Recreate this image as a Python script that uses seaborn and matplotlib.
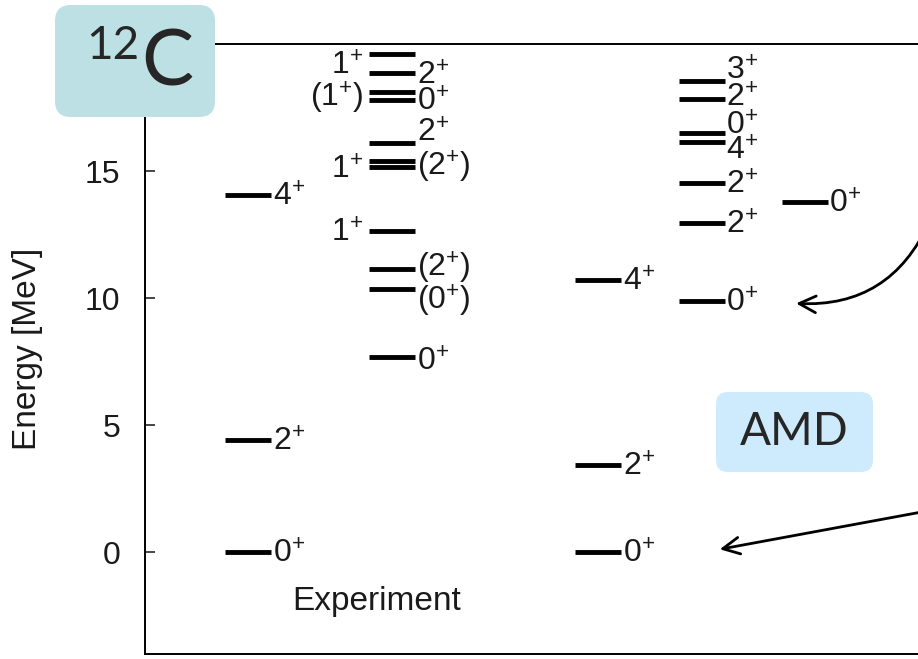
import numpy as np
import pandas as pd
import seaborn as sns
import matplotlib.pyplot as plt
from matplotlib.patches import FancyBboxPatch


# Energy levels of 12C [MeV] and their spin-parity, one list per column
exp_a_energy = [0.0, 4.42, 14.05]
exp_a_jp = ['0+', '2+', '4+']

exp_b_energy = [7.67, 10.35, 11.15, 12.65, 15.15, 15.38, 16.12, 17.78, 18.12, 18.86, 19.62]
exp_b_jp = ['0+', '(0+)', '(2+)', '1+', '1+', '(2+)', '2+', '0+', '(1+)', '2+', '1+']

amd_a_energy = [0.0, 3.43, 10.72]
amd_a_jp = ['0+', '2+', '4+']

amd_b_energy = [9.88, 12.94, 14.54, 16.15, 16.50, 17.84, 18.55]
amd_b_jp = ['0+', '2+', '2+', '4+', '0+', '2+', '3+']

amd_c_energy = [13.77]
amd_c_jp = ['0+']


sns.set_theme(context='notebook', style='ticks')
plt.rcParams['font.family'] = ['Liberation Sans', 'DejaVu Sans']
plt.rcParams['mathtext.fontset'] = 'custom'
plt.rcParams['mathtext.rm'] = 'Liberation Sans'
plt.rcParams['mathtext.it'] = 'Liberation Sans:italic'
plt.rcParams['mathtext.bf'] = 'Liberation Sans:bold'


# layout: where each column sits, which side the label goes, small nudges for crowded labels
col_x = {'exp_a': 1.0, 'exp_b': 2.4, 'amd_a': 4.4, 'amd_b': 5.4, 'amd_c': 6.4}
exp_b_side = ['R', 'R', 'R', 'L', 'L', 'R', 'R', 'R', 'L', 'R', 'L']
exp_b_dy = [-0.1, -0.35, 0.15, 0.0, -0.05, -0.1, 0.45, 0.0, -0.15, -0.05, -0.4]
amd_b_dy = [0.0, 0.0, 0.0, -0.3, 0.35, 0.1, 0.45]

cols = [
    ('exp_a', exp_a_energy, exp_a_jp, None, None),
    ('exp_b', exp_b_energy, exp_b_jp, exp_b_side, exp_b_dy),
    ('amd_a', amd_a_energy, amd_a_jp, None, None),
    ('amd_b', amd_b_energy, amd_b_jp, None, amd_b_dy),
    ('amd_c', amd_c_energy, amd_c_jp, None, None),
]

rows = []
for name, en, jp, side, dy in cols:
    for i in range(len(en)):
        rows.append({'column': name, 'x': col_x[name], 'energy': en[i], 'jp': jp[i],
                     'side': side[i] if side else 'R', 'dy': dy[i] if dy else 0.0})
levels = pd.DataFrame(rows)


def jp_label(s):
    # '(2+)' -> (2^+) in mathtext
    return r'$\mathregular{' + s.replace('+', '^{+}') + '}$'


fig = plt.figure(figsize=(9.18, 6.59), dpi=100)
ax = fig.add_axes([145/918, 5/659, 773/918, 610/659])

sns.scatterplot(data=levels, x='x', y='energy', marker='_', s=1050, linewidth=3.5,
                color='black', legend=False, ax=ax, zorder=3)

half = 0.22
fs = 23
for _, r in levels.iterrows():
    if r['side'] == 'R':
        ax.text(r['x'] + half + 0.02, r['energy'] + r['dy'] - 0.1, jp_label(r['jp']),
                ha='left', va='center', fontsize=fs, color='#1a1a1a')
    else:
        ax.text(r['x'] - half - 0.06, r['energy'] + r['dy'] - 0.1, jp_label(r['jp']),
                ha='right', va='center', fontsize=fs, color='#1a1a1a')

ax.text(2.25, -1.95, 'Experiment', ha='center', va='center', fontsize=24, color='#1a1a1a')

ax.set_xlim(0, 7.5)
ax.set_ylim(-4, 20)
ax.set_xticks([])
ax.set_yticks([0, 5, 10, 15])
ax.tick_params(axis='y', direction='in', length=7, width=1.2, labelsize=fs, pad=18,
               labelcolor='#1a1a1a')
ax.set_xlabel('')
ax.set_ylabel('Energy [MeV]', fontsize=24, color='#1a1a1a', labelpad=30)
ax.spines['right'].set_visible(False)
for s in ['left', 'top', 'bottom']:
    ax.spines[s].set_linewidth(1.4)
    ax.spines[s].set_color('black')

# arrows coming in from the right edge
ax.annotate('', xy=(6.29, 9.8), xytext=(7.62, 13.1), xycoords='data', textcoords='data',
            annotation_clip=False,
            arrowprops=dict(arrowstyle='->', lw=2.0, color='black', mutation_scale=30,
                            connectionstyle='arc3,rad=-0.35'))
ax.annotate('', xy=(5.55, 0.1), xytext=(7.62, 1.65), xycoords='data', textcoords='data',
            annotation_clip=False,
            arrowprops=dict(arrowstyle='->', lw=2.0, color='black', mutation_scale=30))

# label boxes
box1 = FancyBboxPatch((0.55, 5.42), 1.60, 1.12, boxstyle='round,pad=0,rounding_size=0.16',
                      transform=fig.dpi_scale_trans, facecolor='#bce0e3', edgecolor='none',
                      zorder=5)
fig.patches.append(box1)
fig.text(141/918, 1 - 64/659, 'C', fontsize=56, family='Lato', ha='left', va='center', zorder=6)
fig.text(86/918, 1 - 46/659, '12', fontsize=33, family='Lato', ha='left', va='center', zorder=6)

box2 = FancyBboxPatch((7.16, 1.87), 1.57, 0.80, boxstyle='round,pad=0,rounding_size=0.12',
                      transform=fig.dpi_scale_trans, facecolor='#cdebfc', edgecolor='none',
                      zorder=5)
fig.patches.append(box2)
fig.text(794/918, 1 - 432/659, 'AMD', fontsize=33, family='Lato', ha='center',
         va='center', zorder=6)

fig.savefig('out.png', dpi=100)
